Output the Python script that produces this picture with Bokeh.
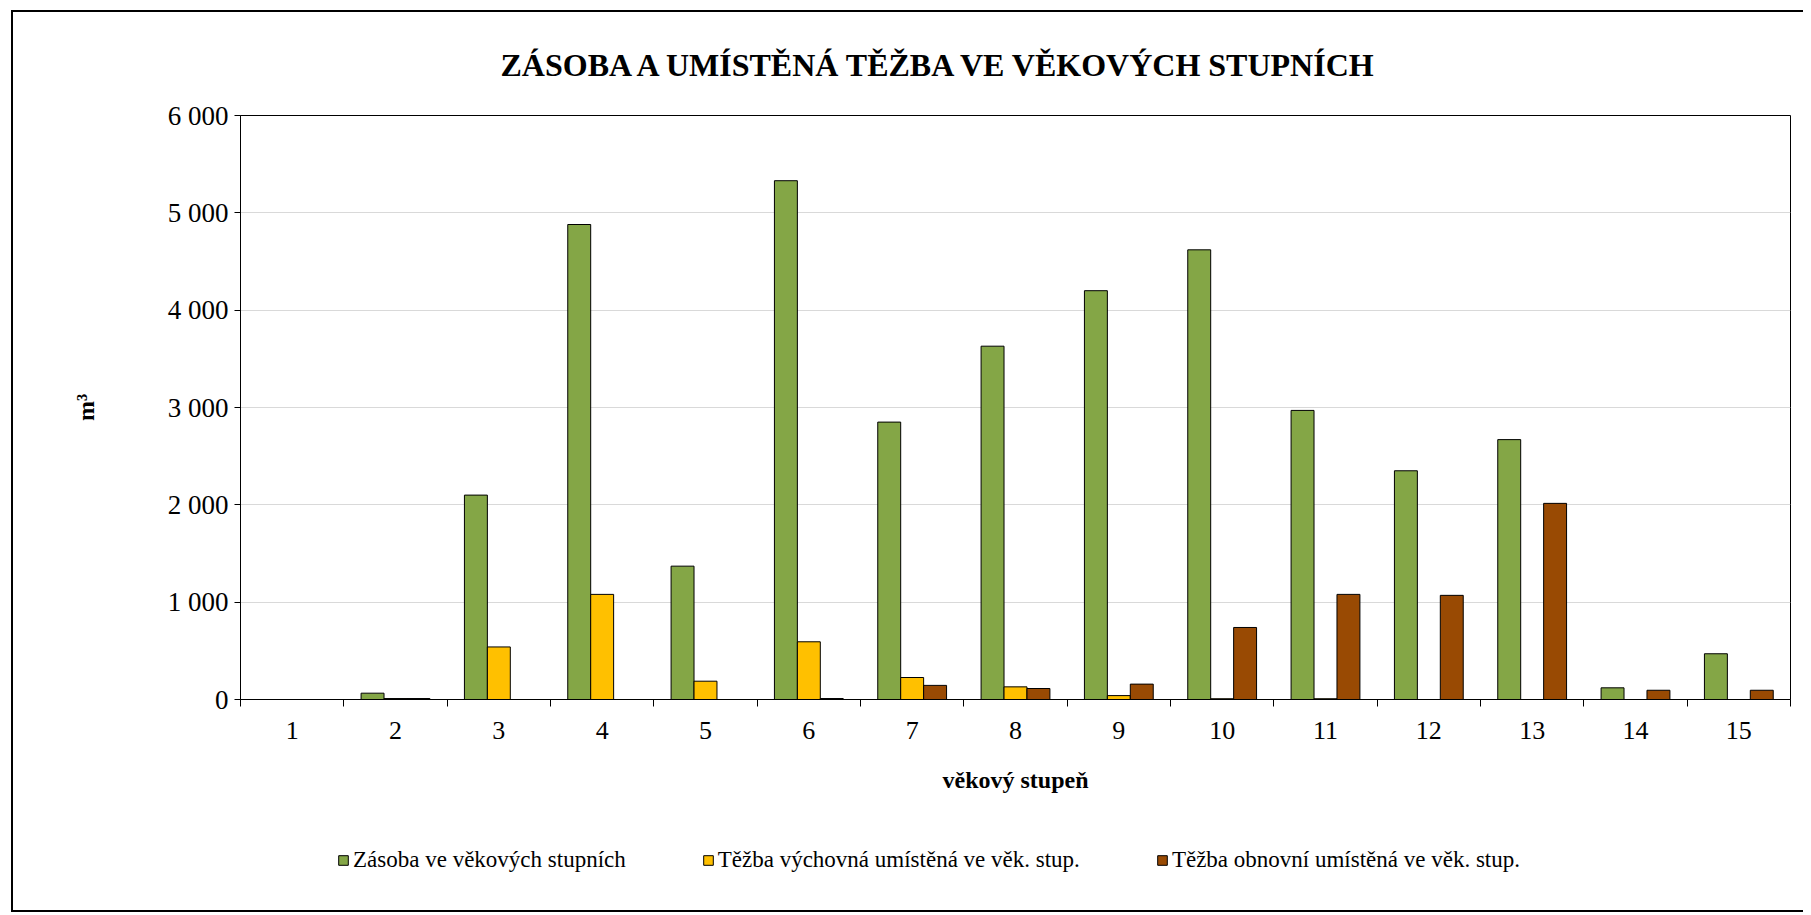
from bokeh.plotting import figure
from bokeh.layouts import column
from bokeh.models import (ColumnDataSource, FixedTicker, Legend, LegendItem, Range1d)
from bokeh.transform import dodge
from bokeh.embed import file_html
from bokeh.resources import INLINE

# ---- data ----
categories = ["1", "2", "3", "4", "5", "6", "7", "8", "9", "10", "11", "12", "13", "14", "15"]
zasoba = [0, 65, 2100, 4880, 1370, 5330, 2850, 3630, 4200, 4620, 2970, 2350, 2670, 120, 470]
tezba_vychovna = [0, 10, 540, 1080, 188, 593, 226, 130, 40, 8, 8, 0, 0, 0, 0]
tezba_obnovni = [0, 10, 0, 0, 0, 10, 145, 113, 158, 740, 1080, 1070, 2015, 95, 95]
series_names = ["Zásoba ve věkových stupních",
                "Těžba výchovná umístěná ve věk. stup.",
                "Těžba obnovní umístěná ve věk. stup."]
colors = ["#84A646", "#FFC000", "#994A03"]
y_ticks = [0, 1000, 2000, 3000, 4000, 5000, 6000]
y_tick_labels = ["0", "1 000", "2 000", "3 000", "4 000", "5 000", "6 000"]
title_text = "ZÁSOBA A UMÍSTĚNÁ TĚŽBA VE VĚKOVÝCH STUPNÍCH"
x_label = "věkový stupeň"
y_label = "m³"

FONT = "Liberation Serif"
W = 1790
H1, H2 = 807, 91

x_pos = list(range(1, len(categories) + 1))
src = ColumnDataSource(dict(x=x_pos, z=zasoba, v=tezba_vychovna, o=tezba_obnovni))

p = figure(width=W, height=H1, output_backend="svg", toolbar_location=None,
           x_range=Range1d(0.5, len(categories) + 0.5), y_range=Range1d(0, 6000),
           min_border_left=227, min_border_right=13, min_border_top=103,
           min_border_bottom=120, background_fill_color="white",
           border_fill_color="white", outline_line_color="black", outline_line_width=1)

p.title.text = title_text
p.title.align = "left"
p.title.offset = 260
p.title.text_font = FONT
p.title.text_font_style = "bold"
p.title.text_font_size = "32px"
p.title.text_color = "black"
p.title.standoff = 65

bw = 0.222
offsets = [-bw, 0.0, bw]
renderers = []
for col, off, c in zip(["z", "v", "o"], offsets, colors):
    r = p.vbar(x=dodge("x", off, range=p.x_range), top=col, width=bw,
               source=src, fill_color=c, line_color="black", line_width=1)
    renderers.append(r)

# axes
xa = p.xaxis[0]
xa.ticker = FixedTicker(ticks=x_pos, minor_ticks=[i + 0.5 for i in range(0, len(categories) + 1)])
xa.major_label_overrides = {i + 1: lab for i, lab in enumerate(categories)}
xa.major_tick_out = 0
xa.major_tick_in = 0
xa.minor_tick_out = 7
xa.minor_tick_in = 0
xa.minor_tick_line_color = "black"
xa.axis_line_color = "black"
xa.major_label_text_font = FONT
xa.major_label_text_font_size = "26px"
xa.major_label_text_color = "black"
xa.major_label_standoff = 15
xa.axis_label = x_label
xa.axis_label_text_font = FONT
xa.axis_label_text_font_style = "bold"
xa.axis_label_text_font_size = "24px"
xa.axis_label_text_color = "black"
xa.axis_label_standoff = 25

ya = p.yaxis[0]
ya.ticker = FixedTicker(ticks=y_ticks, minor_ticks=[])
ya.major_label_overrides = {t: l for t, l in zip(y_ticks, y_tick_labels)}
ya.major_tick_out = 6
ya.major_tick_in = 0
ya.minor_tick_out = 0
ya.axis_line_color = "black"
ya.major_label_text_font = FONT
ya.major_label_text_font_size = "27px"
ya.major_label_text_color = "black"
ya.major_label_standoff = 6
ya.axis_label = y_label
ya.axis_label_text_font = FONT
ya.axis_label_text_font_style = "bold"
ya.axis_label_text_font_size = "24px"
ya.axis_label_text_color = "black"
ya.axis_label_standoff = 66

p.xgrid.grid_line_color = None
p.ygrid.grid_line_color = "#d9d9d9"
p.ygrid.grid_line_width = 1
p.ygrid.ticker = FixedTicker(ticks=y_ticks[1:-1])

# ---- legend strip (separate figure; legend-only renderers holding no visible data) ----
q = figure(width=W, height=H2, output_backend="svg", toolbar_location=None,
           x_range=Range1d(0, 1), y_range=Range1d(0, 1),
           min_border_left=0, min_border_right=0, min_border_top=0, min_border_bottom=0,
           outline_line_color=None, background_fill_color="white", border_fill_color="white")
q.axis.visible = False
q.grid.visible = False
nan = float("nan")
leg_src = ColumnDataSource(dict(x=[nan], top=[nan]))
leg_renderers = [q.vbar(x="x", top="top", width=0.1, source=leg_src, fill_color=c,
                        line_color="black", line_width=1) for c in colors]
legend = Legend(items=[LegendItem(label=n, renderers=[r]) for n, r in zip(series_names, leg_renderers)],
                orientation="horizontal", location=(97, 37), padding=0, margin=0,
                spacing=76, label_standoff=4, glyph_width=12, glyph_height=12,
                label_text_font=FONT, label_text_font_size="23px", label_text_color="black",
                border_line_color=None, background_fill_alpha=0)
q.add_layout(legend, "center")

page = column(p, q, spacing=0,
              styles={"border-left": "2px solid black", "border-top": "2px solid black",
                      "border-bottom": "2px solid black"},
              margin=(10, 0, 0, 11))

open("out.html", "w").write(file_html(page, INLINE))
